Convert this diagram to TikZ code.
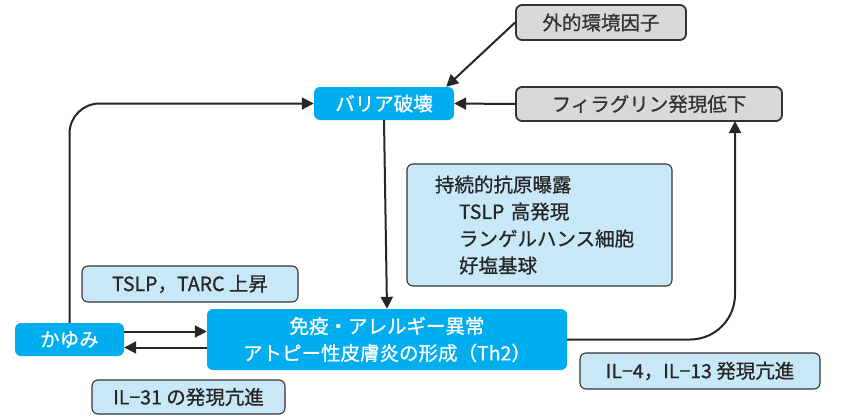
\documentclass[tikz,border=0pt]{standalone}
\usepackage{fontspec}
\setmainfont{Noto Sans CJK JP}[RawFeature={embolden=0.8}]
\usetikzlibrary{arrows.meta}
\definecolor{cy}{HTML}{00AEEF}
\definecolor{lb}{HTML}{C8E8F8}
\definecolor{gr}{HTML}{D9D9D9}
\definecolor{bd}{HTML}{333333}
\tikzset{
  box/.style={rounded corners=6pt, font=\fontsize{19.5}{22}\selectfont, inner sep=0pt},
  cyanbox/.style={box, fill=cy, text=white},
  graybox/.style={box, fill=gr, draw=bd, line width=1.8pt, text=black!80},
  bluebox/.style={box, fill=lb, draw=bd, line width=1.1pt, text=black!85},
  arr/.style={-{Triangle[length=12pt,width=12pt]}, line width=2pt, draw=black!85},
}
\begin{document}
\begin{tikzpicture}[x=1pt,y=-1pt]
\useasboundingbox (0,0) rectangle (841,416);
% boxes
\node[graybox, minimum width=170, minimum height=35] (ext) at (601,22.5) {外的環境因子};
\node[graybox, minimum width=266, minimum height=34] (fil) at (649,104) {フィラグリン発現低下};
\node[cyanbox, minimum width=140, minimum height=33] (bar) at (384,103.5) {バリア破壊};
\node[bluebox, minimum width=265, minimum height=122, align=left, text width=209, font=\fontsize{19.5}{27}\selectfont] (ag) at (539.5,225)
  {持続的抗原曝露\\\hspace*{24pt}TSLP 高発現\\\hspace*{24pt}ランゲルハンス細胞\\\hspace*{24pt}好塩基球};
\node[bluebox, minimum width=216, minimum height=36] (tslp) at (190,284) {TSLP，TARC 上昇};
\node[cyanbox, minimum width=109, minimum height=33] (kay) at (69.5,339.5) {かゆみ};
\node[cyanbox, minimum width=360, minimum height=61, align=center, font=\fontsize{19.5}{27}\selectfont] (imm) at (387,339.5)
  {免疫・アレルギー異常\\アトピー性皮膚炎の形成（Th2）};
\node[bluebox, minimum width=193, minimum height=34] (il31) at (188.5,397) {IL−31 の発現亢進};
\node[bluebox, minimum width=240, minimum height=36] (il4) at (700,371) {IL−4，IL−13 発現亢進};
% connectors
\coordinate (fb) at (735,121);
\draw[arr] (ext.west) -- ([xshift=-8]bar.north east);
\draw[arr] (fil.west) -- (bar.east);
\draw[arr] (bar.south) -- (imm.north);
\draw[arr, rounded corners=45pt] (imm.east) -- (imm.east -| fb) -- (fb);
\draw[arr, rounded corners=30pt] (kay.north) -- (kay.north |- bar.west) -- (bar.west);
\draw[arr] ([yshift=8]kay.east) -- ([yshift=8]kay.east -| imm.west);
\draw[arr] ([yshift=-8]imm.west) -- ([yshift=-8]imm.west -| kay.east);
\end{tikzpicture}
\end{document}
